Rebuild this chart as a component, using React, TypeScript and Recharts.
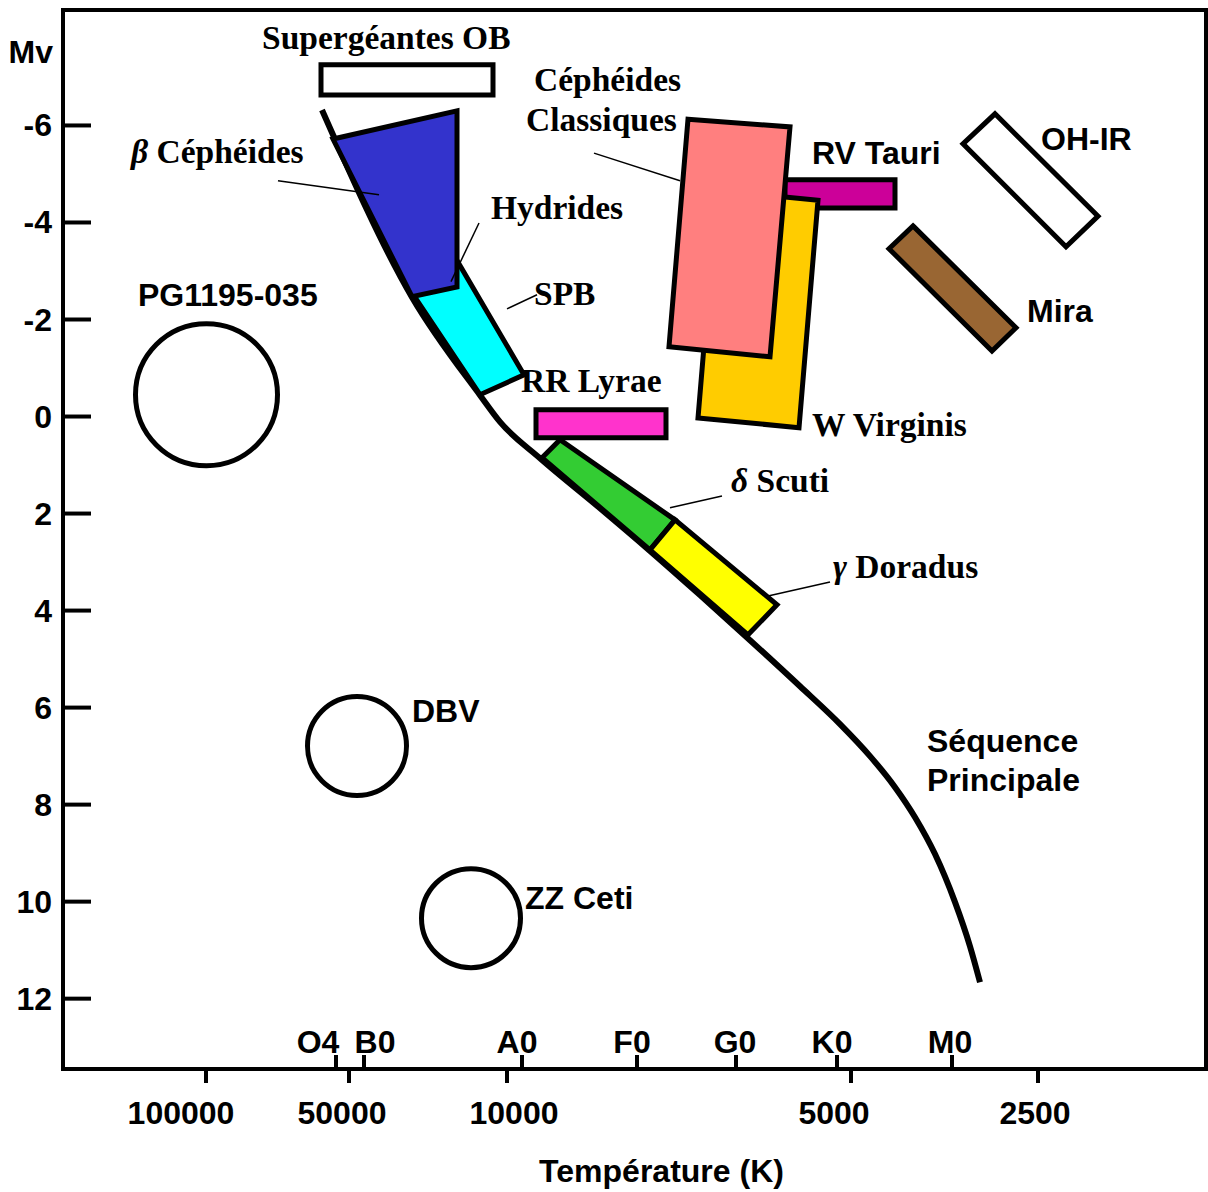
import React from 'react';
import { ComposedChart, XAxis, YAxis, Scatter, ReferenceArea } from 'recharts';

// x = schematic position along the temperature axis (0 = left edge of the frame), y = Mv
const X_DOMAIN: [number, number] = [0, 114.3];
const Y_DOMAIN: [number, number] = [-8.38, 13.45];

const mvTicks = [-6, -4, -2, 0, 2, 4, 6, 8, 10, 12];

const temperatureTicks = [
  { x: 14.3, label: '100000' },
  { x: 28.6, label: '50000' },
  { x: 44.4, label: '10000' },
  { x: 78.8, label: '5000' },
  { x: 97.5, label: '2500' },
];

const spectralTicks = [
  { x: 27.3, label: 'O4' },
  { x: 30.1, label: 'B0' },
  { x: 45.9, label: 'A0' },
  { x: 57.4, label: 'F0' },
  { x: 67.3, label: 'G0' },
  { x: 77.4, label: 'K0' },
  { x: 88.9, label: 'M0' },
];

const mainSequence = [
  { x: 25.9, y: -6.32 }, { x: 34.9, y: -2.46 }, { x: 41.7, y: -0.44 }, { x: 43.7, y: 0.11 },
  { x: 47.7, y: 0.86 }, { x: 53.7, y: 1.89 }, { x: 58.7, y: 2.77 }, { x: 63.7, y: 3.68 },
  { x: 68.7, y: 4.61 }, { x: 73.7, y: 5.56 }, { x: 77.7, y: 6.34 }, { x: 80.7, y: 7.0 },
  { x: 83.2, y: 7.64 }, { x: 85.2, y: 8.26 }, { x: 87.2, y: 9.02 }, { x: 89.2, y: 10.01 },
  { x: 90.7, y: 10.92 }, { x: 91.7, y: 11.66 },
];

const supergiantsOB = [{ x: 25.8, y: -7.25 }, { x: 43.0, y: -7.25 }, { x: 43.0, y: -6.63 }, { x: 25.8, y: -6.63 }];
const spb = [{ x: 34.7, y: -2.61 }, { x: 39.5, y: -3.18 }, { x: 46.1, y: -0.86 }, { x: 41.7, y: -0.45 }];
const betaCephei = [{ x: 27.0, y: -5.72 }, { x: 39.4, y: -6.3 }, { x: 39.4, y: -2.67 }, { x: 34.9, y: -2.47 }];
const rrLyrae = [{ x: 47.3, y: -0.14 }, { x: 60.3, y: -0.14 }, { x: 60.3, y: 0.44 }, { x: 47.3, y: 0.44 }];
const deltaScuti = [{ x: 47.9, y: 0.85 }, { x: 49.7, y: 0.48 }, { x: 61.2, y: 2.13 }, { x: 58.7, y: 2.75 }];
const gammaDoradus = [{ x: 58.7, y: 2.75 }, { x: 61.2, y: 2.13 }, { x: 71.4, y: 3.88 }, { x: 68.5, y: 4.5 }];
const rvTauri = [{ x: 72.2, y: -4.88 }, { x: 83.2, y: -4.88 }, { x: 83.2, y: -4.3 }, { x: 72.2, y: -4.3 }];
const wVirginis = [{ x: 65.4, y: -4.66 }, { x: 75.5, y: -4.46 }, { x: 73.6, y: 0.23 }, { x: 63.5, y: 0.03 }];
const classicalCepheids = [{ x: 62.5, y: -6.13 }, { x: 72.7, y: -5.97 }, { x: 70.7, y: -1.23 }, { x: 60.6, y: -1.44 }];
const ohIr = [{ x: 93.2, y: -6.24 }, { x: 103.5, y: -4.13 }, { x: 100.3, y: -3.5 }, { x: 90.0, y: -5.62 }];
const mira = [{ x: 85.0, y: -3.93 }, { x: 95.3, y: -1.83 }, { x: 92.9, y: -1.35 }, { x: 82.6, y: -3.46 }];

const pg1159 = [{ x: 14.35, y: -0.45 }];
const dbvAndZZ = [{ x: 29.4, y: 6.79 }, { x: 40.8, y: 10.34 }];

const leaderLines = [
  [{ x: 21.5, y: -4.86 }, { x: 31.6, y: -4.57 }],
  [{ x: 41.6, y: -3.99 }, { x: 38.8, y: -2.78 }],
  [{ x: 44.4, y: -2.22 }, { x: 47.4, y: -2.51 }],
  [{ x: 53.1, y: -5.43 }, { x: 61.7, y: -4.86 }],
  [{ x: 60.7, y: 1.88 }, { x: 65.9, y: 1.64 }],
  [{ x: 70.5, y: 3.7 }, { x: 76.7, y: 3.41 }],
];

const serifLabels = [
  { x: 19.9, y: -7.58, text: 'Supergéantes OB' },
  { x: 47.1, y: -6.71, text: 'Céphéides' },
  { x: 46.3, y: -5.89, text: 'Classiques' },
  { x: 6.8, y: -5.23, greek: 'β', text: 'Céphéides' },
  { x: 42.8, y: -4.07, text: 'Hydrides' },
  { x: 47.1, y: -2.3, text: 'SPB' },
  { x: 45.8, y: -0.51, text: 'RR Lyrae' },
  { x: 74.9, y: 0.4, text: 'W Virginis' },
  { x: 66.8, y: 1.55, greek: 'δ', text: 'Scuti' },
  { x: 77.0, y: 3.33, greek: 'γ', text: 'Doradus' },
];

const sansLabels = [
  { x: 74.9, y: -5.21, text: 'RV Tauri' },
  { x: 97.8, y: -5.5, text: 'OH-IR' },
  { x: 96.4, y: -1.95, text: 'Mira' },
  { x: 7.5, y: -2.28, text: 'PG1195-035' },
  { x: 34.9, y: 6.3, text: 'DBV' },
  { x: 46.2, y: 10.15, text: 'ZZ Ceti' },
  { x: 86.4, y: 6.92, text: 'Séquence' },
  { x: 86.4, y: 7.72, text: 'Principale' },
];

const SANS = "'Liberation Sans', Arial, Helvetica, sans-serif";
const SERIF = "'Liberation Serif', 'Times New Roman', serif";

const tempShift: Record<string, number> = { '100000': -25, '50000': -7, '10000': 7, '5000': -17, '2500': -3 };
const specShift: Record<string, number> = { O4: -18, B0: 11, A0: -5, F0: -5, G0: -1, K0: -5, M0: -2 };

const NoMarker = () => <g />;

const polygon = (fill: string) => (p: any) => (
  <path
    d={'M' + p.points.map((q: any) => `${q.x},${q.y}`).join('L') + 'Z'}
    fill={fill}
    stroke="#000"
    strokeWidth={5}
    strokeLinejoin="miter"
  />
);

const ring = (r: number) => (p: any) => (
  <circle cx={p.cx} cy={p.cy} r={r} fill="none" stroke="#000" strokeWidth={5} />
);

const SerifText = (p: any) => (
  <text x={p.cx} y={p.cy} fontFamily={SERIF} fontWeight="bold" fontSize={33.5} fill="#000">
    {p.payload.greek && <tspan fontStyle="italic">{p.payload.greek} </tspan>}
    {p.payload.text}
  </text>
);

const SansText = (p: any) => (
  <text x={p.cx} y={p.cy} fontFamily={SANS} fontWeight="bold" fontSize={32} fill="#000">
    {p.payload.text}
  </text>
);

const XTick = (props: any) => {
  const { x, y, payload } = props;
  const t = temperatureTicks.find(d => d.x === payload.value);
  if (t) {
    return (
      <g>
        <line x1={x} x2={x} y1={y} y2={y + 14} stroke="#000" strokeWidth={4} />
        <text x={x + tempShift[t.label]} y={y + 55} textAnchor="middle" fontFamily={SANS} fontWeight="bold" fontSize={32} fill="#000">
          {t.label}
        </text>
      </g>
    );
  }
  const s = spectralTicks.find(d => d.x === payload.value);
  if (!s) return <g />;
  return (
    <g>
      <line x1={x} x2={x} y1={y} y2={y - 14} stroke="#000" strokeWidth={4} />
      <text x={x + specShift[s.label]} y={y - 16} textAnchor="middle" fontFamily={SANS} fontWeight="bold" fontSize={32} fill="#000">
        {s.label}
      </text>
    </g>
  );
};

const YTick = (props: any) => {
  const { x, y, payload } = props;
  return (
    <g>
      <line x1={x} x2={x + 28} y1={y} y2={y} stroke="#000" strokeWidth={4} />
      <text x={x - 11} y={y + 11} textAnchor="end" fontFamily={SANS} fontWeight="bold" fontSize={32} fill="#000">
        {payload.value}
      </text>
    </g>
  );
};

const MvTitle = (p: any) => {
  const vb = p.viewBox || { x: 0, y: 10 };
  return (
    <text x={vb.x + 53} y={vb.y + 53} textAnchor="end" fontFamily={SANS} fontWeight="bold" fontSize={32} fill="#000">
      Mv
    </text>
  );
};

const TempTitle = (p: any) => {
  const vb = p.viewBox || { x: 63, y: 1069, width: 1143 };
  return (
    <text x={vb.x + vb.width / 2 + 27} y={vb.y + 113} textAnchor="middle" fontFamily={SANS} fontWeight="bold" fontSize={32} fill="#000">
      Température (K)
    </text>
  );
};

const regions = [
  { key: 'ob', pts: supergiantsOB, fill: '#FFFFFF' },
  { key: 'spb', pts: spb, fill: '#00FFFF' },
  { key: 'bcep', pts: betaCephei, fill: '#3333CC' },
  { key: 'rrl', pts: rrLyrae, fill: '#FF33CC' },
  { key: 'dsct', pts: deltaScuti, fill: '#33CC33' },
  { key: 'gdor', pts: gammaDoradus, fill: '#FFFF00' },
  { key: 'rvt', pts: rvTauri, fill: '#CC0099' },
  { key: 'wvir', pts: wVirginis, fill: '#FFCC00' },
  { key: 'ceph', pts: classicalCepheids, fill: '#FF7F7F' },
  { key: 'ohir', pts: ohIr, fill: '#FFFFFF' },
  { key: 'mira', pts: mira, fill: '#996633' },
];

export default function App() {
  return (
    <div style={{ position: 'absolute', left: 0, top: 0, background: '#fff' }}>
      <ComposedChart width={1208} height={1192} margin={{ top: 10, right: 2, bottom: 0, left: 0 }}>
        <XAxis
          type="number"
          dataKey="x"
          domain={X_DOMAIN}
          ticks={[...temperatureTicks, ...spectralTicks].map(t => t.x)}
          interval={0}
          height={123}
          axisLine={false}
          tickLine={false}
          tickSize={0}
          tickMargin={0}
          tick={<XTick />}
          label={<TempTitle />}
        />
        <YAxis
          type="number"
          dataKey="y"
          domain={Y_DOMAIN}
          reversed
          ticks={mvTicks}
          interval={0}
          width={63}
          axisLine={false}
          tickLine={false}
          tickSize={0}
          tickMargin={0}
          tick={<YTick />}
          label={<MvTitle />}
        />
        <ReferenceArea
          x1={X_DOMAIN[0]}
          x2={X_DOMAIN[1]}
          y1={Y_DOMAIN[0]}
          y2={Y_DOMAIN[1]}
          fill="none"
          fillOpacity={0}
          stroke="#000"
          strokeWidth={4}
        />
        <Scatter
          data={mainSequence}
          line={{ stroke: '#000', strokeWidth: 6 }}
          lineJointType="monotoneX"
          shape={NoMarker}
          isAnimationActive={false}
        />
        {regions.map(r => (
          <Scatter key={r.key} data={r.pts} line={polygon(r.fill)} shape={NoMarker} isAnimationActive={false} />
        ))}
        <Scatter data={pg1159} shape={ring(71)} isAnimationActive={false} />
        <Scatter data={dbvAndZZ} shape={ring(49.5)} isAnimationActive={false} />
        {leaderLines.map((seg, i) => (
          <Scatter
            key={'leader' + i}
            data={seg}
            line={{ stroke: '#000', strokeWidth: 1.5 }}
            shape={NoMarker}
            isAnimationActive={false}
          />
        ))}
        <Scatter data={serifLabels} shape={SerifText} isAnimationActive={false} />
        <Scatter data={sansLabels} shape={SansText} isAnimationActive={false} />
      </ComposedChart>
    </div>
  );
}
